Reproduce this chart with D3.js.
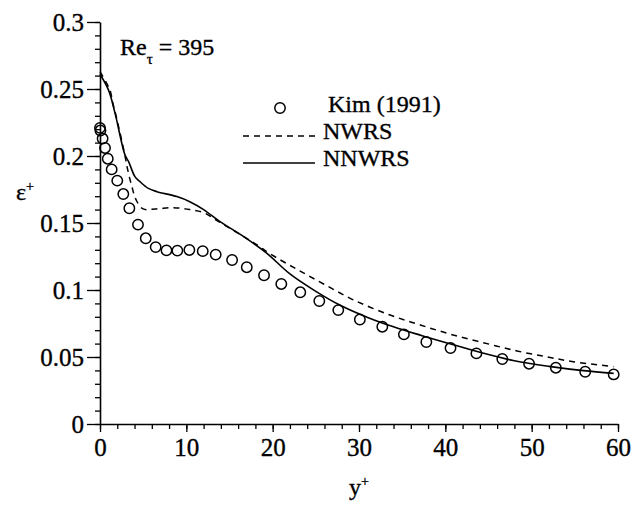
<!DOCTYPE html>
<html>
<head>
<meta charset="utf-8">
<script src="https://cdn.jsdelivr.net/npm/d3@7"></script>
<style>
  body { margin: 0; background: #fff; }
  text { font-family: "Liberation Serif", "Times New Roman", serif; fill: #000; stroke: #000; stroke-width: 0.35px; }
</style>
</head>
<body>
<div id="graph"></div>
<script>
// Kim (1991) DNS points
let kimX = [0, 0.05, 0.3, 0.58, 0.9, 1.35, 2.0, 2.7, 3.4, 4.4, 5.3, 6.45, 7.7, 8.96, 10.35, 11.9, 13.4, 15.3, 17.0, 19.0, 21.0, 23.2, 25.4, 27.6, 30.1, 32.7, 35.2, 37.8, 40.6, 43.6, 46.6, 49.7, 52.8, 56.2, 59.5];
let kimY = [0.221, 0.219, 0.213, 0.206, 0.198, 0.190, 0.1816, 0.1716, 0.161, 0.1488, 0.1386, 0.132, 0.1296, 0.1294, 0.1299, 0.129, 0.1264, 0.1224, 0.117, 0.111, 0.1045, 0.0983, 0.0918, 0.085, 0.078, 0.0726, 0.0669, 0.0612, 0.0567, 0.0527, 0.0485, 0.045, 0.042, 0.039, 0.037];

// NWRS (dashed)
let nwrsX = [0, 1.16, 1.5, 1.9, 2.9, 3.2, 3.7, 4.2, 5.0, 6.5, 8.5, 10.4, 12.0, 13.5, 16.6, 18.2, 19.7, 22.8, 25.9, 29.4, 33.6, 37.1, 40.6, 44.4, 48.3, 51.7, 54.8, 59.5];
let nwrsY = [0.263, 0.249, 0.239, 0.229, 0.2, 0.19, 0.177, 0.167, 0.1605, 0.1605, 0.1614, 0.160, 0.1577, 0.152, 0.14, 0.1336, 0.127, 0.1155, 0.1045, 0.0925, 0.0813, 0.0739, 0.067, 0.0607, 0.0545, 0.0502, 0.0465, 0.0428];

// NNWRS (solid)
let nnwrsX = [0, 1, 1.74, 2.9, 3.3, 4.05, 4.6, 5.6, 6.6, 8.9, 10.4, 12, 13.9, 16.6, 19.3, 22, 25, 28, 31, 34, 37, 40.2, 44, 48, 52, 56, 59.5];
let nnwrsY = [0.261, 0.249, 0.232, 0.2007, 0.196, 0.1846, 0.181, 0.1758, 0.1734, 0.1697, 0.1659, 0.16, 0.151, 0.14, 0.1275, 0.112, 0.099, 0.088, 0.0795, 0.0725, 0.0665, 0.0605, 0.0535, 0.0472, 0.043, 0.0398, 0.0378];

let xTicks = [0, 10, 20, 30, 40, 50, 60];
let yTicks = [0, 0.05, 0.1, 0.15, 0.2, 0.25, 0.3];
let legendNames = ["Kim (1991)", "NWRS", "NNWRS"];

const serif = '"Liberation Serif", "Times New Roman", serif';
const total_width = 635, total_height = 506;
const margin = {top: 22, right: 17, bottom: 82, left: 100};
const width = total_width - margin.left - margin.right;
const height = total_height - margin.top - margin.bottom;

let svg = d3.select("#graph")
    .append("svg")
    .attr("width", total_width)
    .attr("height", total_height)
    .append("g")
    .attr("transform", `translate(${margin.left}, ${margin.top})`);

let x = d3.scaleLinear().domain([0, 60]).range([0, width]);
let y = d3.scaleLinear().domain([0, 0.3]).range([height, 0]);

function fmt(d) { return d === 0 ? "0" : String(+d.toFixed(2)); }

// minor ticks
svg.append("g")
    .attr("transform", `translate(0, ${height})`)
    .call(d3.axisBottom(x).tickValues(d3.range(0, 61, 2)).tickSize(5).tickFormat(""))
    .call(g => g.select(".domain").remove());
svg.append("g")
    .call(d3.axisLeft(y).tickValues(d3.range(0, 0.3001, 0.01)).tickSize(5).tickFormat(""))
    .call(g => g.select(".domain").remove());

// major ticks
let xAxis = svg.append("g")
    .attr("transform", `translate(0, ${height})`)
    .call(d3.axisBottom(x).tickValues(xTicks).tickSize(8).tickSizeOuter(0).tickPadding(6).tickFormat(fmt));
let yAxis = svg.append("g")
    .call(d3.axisLeft(y).tickValues(yTicks).tickSize(13).tickSizeOuter(0).tickPadding(3).tickFormat(fmt));

xAxis.attr("font-family", serif).attr("font-size", 25);
yAxis.attr("font-family", serif).attr("font-size", 25);
svg.selectAll(".tick line").attr("stroke", "#000").attr("stroke-width", 1.3);
svg.selectAll(".domain").attr("stroke", "#000").attr("stroke-width", 1.6);
svg.selectAll(".tick text").attr("fill", "#000");

// axis titles
let yt = svg.append("text")
    .attr("x", -84)
    .attr("y", 178)
    .style("font-size", "24px");
yt.append("tspan").text("ε");
yt.append("tspan").attr("dy", -9).style("font-size", "14px").text("+");

let xt = svg.append("text")
    .attr("x", width / 2)
    .attr("y", 473)
    .style("text-anchor", "middle")
    .style("font-size", "24px");
xt.append("tspan").text("y");
xt.append("tspan").attr("dy", -9).style("font-size", "14px").text("+");

// Re label
let re = svg.append("text")
    .attr("x", 20)
    .attr("y", 33)
    .style("font-size", "24px");
re.append("tspan").text("Re");
re.append("tspan").attr("dy", 9).style("font-size", "15px").text("τ");
re.append("tspan").attr("dy", -9).text(" = 395");

// lines
let nwrs = nwrsX.map(function(d, i) { return [d, nwrsY[i]]; });
let nnwrs = nnwrsX.map(function(d, i) { return [d, nnwrsY[i]]; });
let kim = kimX.map(function(d, i) { return [d, kimY[i]]; });

let line = d3.line()
    .x(function(d) { return x(d[0]); })
    .y(function(d) { return y(d[1]); })
    .curve(d3.curveCatmullRom.alpha(0.5));

svg.append("path")
    .datum(nwrs)
    .attr("fill", "none")
    .attr("stroke", "#000")
    .attr("stroke-width", 1.5)
    .attr("stroke-dasharray", "6,5")
    .attr("d", line);

svg.append("path")
    .datum(nnwrs)
    .attr("fill", "none")
    .attr("stroke", "#000")
    .attr("stroke-width", 1.6)
    .attr("d", line);

svg.append("g").selectAll("circle")
    .data(kim)
    .enter()
    .append("circle")
    .attr("cx", function(d) { return x(d[0]); })
    .attr("cy", function(d) { return y(d[1]); })
    .attr("r", 5.2)
    .attr("fill", "none")
    .attr("stroke", "#000")
    .attr("stroke-width", 1.5);

// legend
let legend = svg.append("g").attr("transform", "translate(143, 0)");
legend.append("circle")
    .attr("cx", 37).attr("cy", 86).attr("r", 5.2)
    .attr("fill", "none").attr("stroke", "#000").attr("stroke-width", 1.5);
legend.append("line")
    .attr("x1", 0).attr("x2", 72).attr("y1", 114).attr("y2", 114)
    .attr("stroke", "#000").attr("stroke-width", 1.5).attr("stroke-dasharray", "6,5");
legend.append("line")
    .attr("x1", 0).attr("x2", 72).attr("y1", 141).attr("y2", 141)
    .attr("stroke", "#000").attr("stroke-width", 1.6);
legend.selectAll("text.lg")
    .data(legendNames)
    .enter()
    .append("text")
    .attr("class", "lg")
    .attr("x", function(d, i) { return i === 0 ? 85 : 80; })
    .attr("y", function(d, i) { return 90 + i * 27; })
    .style("font-size", "24px")
    .text(function(d) { return d; });
</script>
</body>
</html>
